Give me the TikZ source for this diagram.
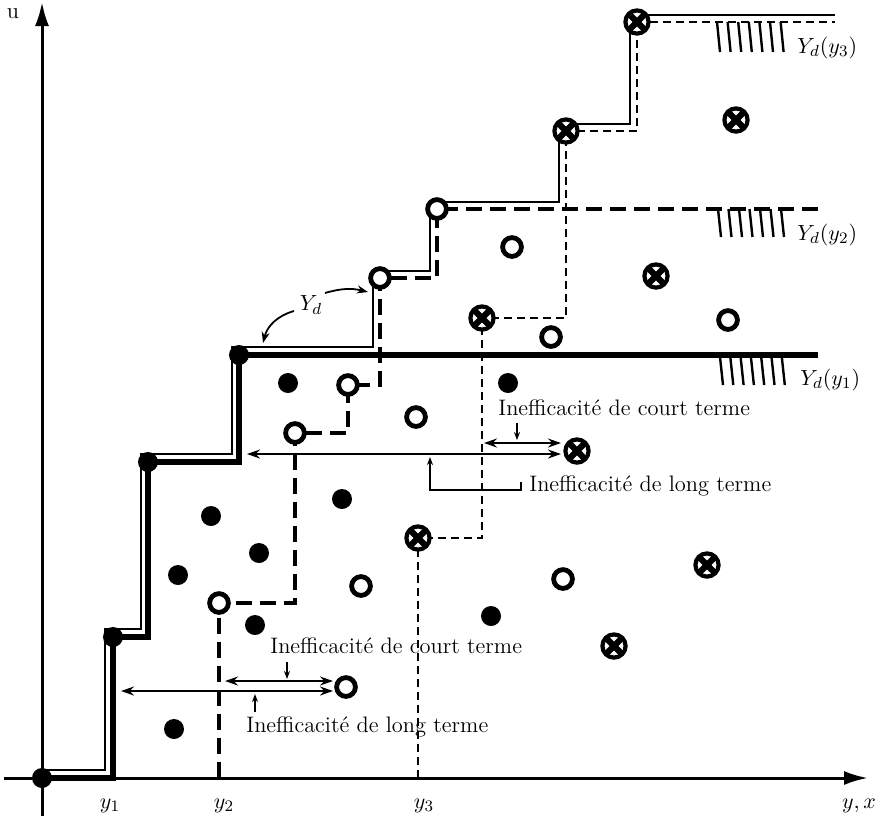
\documentclass[tikz,border=0pt]{standalone}
\usepackage{fontspec}
\usetikzlibrary{arrows.meta}
\pgfdeclarelayer{bg}
\pgfsetlayers{bg,main}
\begin{document}
\begin{tikzpicture}[x=0.5pt,y=-0.5pt,
  fdot/.style={circle,fill=black,inner sep=0pt,minimum size=10pt},
  odot/.style={circle,draw=black,fill=white,line width=2.4pt,inner sep=0pt,minimum size=9.4pt},
  xdot/.style={circle,draw=black,fill=white,line width=2.1pt,inner sep=0pt,minimum size=11.6pt,
     path picture={\draw[line width=3.1pt] (path picture bounding box.south west) -- (path picture bounding box.north east) (path picture bounding box.north west) -- (path picture bounding box.south east);}},
  thickln/.style={line width=3.3pt},
  thinln/.style={line width=1pt},
  longdash/.style={line width=1.6pt,dash pattern=on 8pt off 4pt},
  shortdash/.style={line width=1.3pt,dash pattern=on 4pt off 2.5pt},
  ineff/.style={line width=0.9pt,{Stealth[length=6.5pt,width=4.5pt]}-{Stealth[length=6.5pt,width=4.5pt]}},
  pointer/.style={line width=0.8pt,-{Stealth[length=4pt,width=3pt]}},
  curv/.style={line width=0.9pt,-{Stealth[length=5.5pt,width=4pt]}},
  axis/.style={line width=1.5pt,-{Latex[length=12pt,width=7pt]}},
  hatch/.style={line width=1.2pt},
  lbl/.style={font=\fontsize{11.2}{13}\selectfont,inner sep=0pt},
]
\useasboundingbox (0,0) rectangle (878,816);

% ---- filled dots
\node[fdot] (A) at (42,778) {};
\node[fdot] (B) at (113,637) {};
\node[fdot] (C) at (148,462) {};
\node[fdot] (D) at (239,355) {};
\node[fdot] (f1) at (288,383) {};
\node[fdot] (f2) at (508,383) {};
\node[fdot] (f3) at (342,499) {};
\node[fdot] (f4) at (211,516) {};
\node[fdot] (f5) at (259,553) {};
\node[fdot] (f6) at (178,575) {};
\node[fdot] (f7) at (255,625) {};
\node[fdot] (f8) at (174,729) {};
\node[fdot] (f9) at (491,616) {};

% ---- open circles
\node[odot] (P1) at (219,603) {};
\node[odot] (P2) at (295,433) {};
\node[odot] (P3) at (348,385) {};
\node[odot] (E) at (380,278) {};
\node[odot] (F) at (437,209) {};
\node[odot] (o1) at (512,247) {};
\node[odot] (o2) at (416,417) {};
\node[odot] (o3) at (551,337) {};
\node[odot] (o4) at (728,320) {};
\node[odot] (o5) at (361,586) {};
\node[odot] (o6) at (563,579) {};
\node[odot] (o7) at (346,687) {};

% ---- crossed circles
\node[xdot] (X1) at (418,538) {};
\node[xdot] (X2) at (482,318) {};
\node[xdot] (G) at (566,131) {};
\node[xdot] (H) at (637,22) {};
\node[xdot] (x1) at (736,120) {};
\node[xdot] (x2) at (656,276) {};
\node[xdot] (x3) at (577,451) {};
\node[xdot] (x4) at (707,565) {};
\node[xdot] (x5) at (614,646) {};

% ---- coordinates
\coordinate (vb) at (42,816);
\coordinate (vt) at (42,2);
\coordinate (hl) at (4,778);
\coordinate (hr) at (868,778);
\coordinate (e1) at (818,355);
\coordinate (a2) at (219,778);
\coordinate (e2) at (818,209);
\coordinate (a3) at (418,778);
\coordinate (e3) at (835,22);

\begin{pgfonlayer}{bg}
\draw[axis] (vb) -- (vt);
\draw[axis] (hl) -- (hr);
\draw[thickln] (A.center) -| (B.center) -| (C.center) -| (D.center) -- (e1);
\draw[longdash] (a2) -- (P1.center) -| (P2.center) -| (P3.center) -| (E.center) -| (F.center) -- (e2);
\draw[shortdash] (a3) -- (X1.center) -| (X2.center) -| (G.center) -| (H.center) -- (e3);
\draw[thinln] (42,770) -- (105,770) -- (105,629) -- (141,629) -- (141,454) -- (232,454) -- (232,347)
  -- (373,347) -- (373,271) -- (430,271) -- (430,202) -- (559,202) -- (559,124) -- (630,124) -- (630,15) -- (835,15);
\end{pgfonlayer}

% ---- hatches
\foreach \i in {0,...,6} {
  \draw[hatch] ({720+10.3*\i},357) -- ({723+10.3*\i},385);
  \draw[hatch] ({718+10.5*\i},209) -- ({721+10.5*\i},237);
  \draw[hatch] ({717+10.6*\i},22) -- ({720+10.6*\i},52);
}

% ---- labels
\node[lbl] (u) at (13,14) {u};
\node[lbl,anchor=base] (y1l) at (110,808) {$y_1$};
\node[lbl,anchor=base] (y2l) at (224,808) {$y_2$};
\node[lbl,anchor=base] (y3l) at (424,808) {$y_3$};
\node[lbl,anchor=base] (yxl) at (859,808) {$y,x$};
\node[lbl,anchor=base west] (L1) at (800,385) {$Y_d(y_1)$};
\node[lbl,anchor=base west] (L2) at (797,240) {$Y_d(y_2)$};
\node[lbl,anchor=base west] (L3) at (797,53) {$Y_d(y_3)$};

% ---- Y_d with arrows
\node[lbl] (Ydl) at (311,305) {$Y_d$};
\coordinate (yda1) at (263,343);
\coordinate (yda2) at (368,292);
\coordinate (yds1) at (294,311);
\coordinate (yds2) at (325,293);
\draw[curv] (yds1) to[bend right=30] (yda1);
\draw[curv] (yds2) to[bend left=15] (yda2);

% ---- inefficiency texts
\node[lbl,anchor=base west] (t1) at (498,415) {Inefficacité de court terme};
\node[lbl,anchor=base west] (t2) at (529,491) {Inefficacité de long terme};
\node[lbl,anchor=base west] (t3) at (270,653) {Inefficacité de court terme};
\node[lbl,anchor=base west] (t4) at (246,732) {Inefficacité de long terme};

% ---- inefficiency arrows (upper)
\coordinate (ul1) at (247,454);
\coordinate (ur1) at (561,454);
\coordinate (us1) at (484,443);
\coordinate (us2) at (561,443);
\draw[ineff] (ul1) -- (ur1);
\draw[ineff] (us1) -- (us2);
\coordinate (pa1) at (517,423);
\coordinate (pa2) at (517,440);
\draw[pointer] (pa1) -- (pa2);
\coordinate (pb1) at (521,482);
\coordinate (pb2) at (430,457);
\draw[pointer] (pb1) -- (521,490) -- (430,490) -- (pb2);

% ---- inefficiency arrows (lower)
\coordinate (ll1) at (121,691);
\coordinate (lr1) at (333,691);
\coordinate (ls1) at (225,681);
\coordinate (ls2) at (333,681);
\draw[ineff] (ll1) -- (lr1);
\draw[ineff] (ls1) -- (ls2);
\coordinate (pc1) at (287,662);
\coordinate (pc2) at (287,679);
\draw[pointer] (pc1) -- (pc2);
\coordinate (pd1) at (255,712);
\coordinate (pd2) at (255,694);
\draw[pointer] (pd1) -- (pd2);
\end{tikzpicture}
\end{document}
